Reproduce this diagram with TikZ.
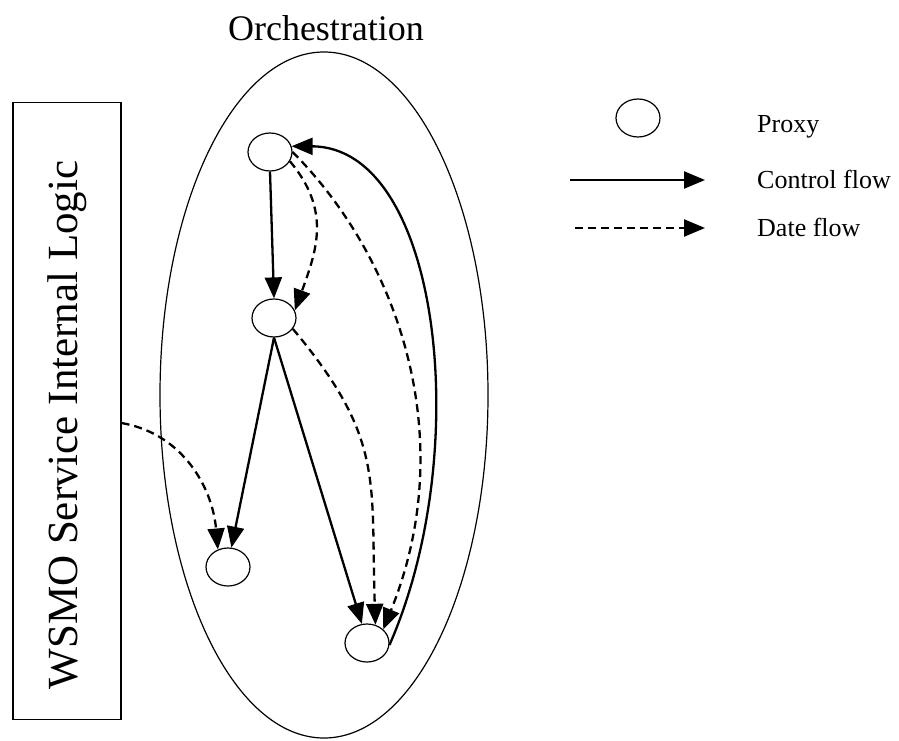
\documentclass[tikz,border=0pt]{standalone}
\usepackage{fontspec}
\setmainfont{Liberation Serif}
\usetikzlibrary{arrows.meta,shapes.geometric}
\begin{document}
\begin{tikzpicture}[x=1pt,y=1pt,
  proxy/.style={ellipse,draw,line width=1.2pt,minimum width=44pt,minimum height=38pt,inner sep=0pt},
  ctrl/.style={line width=2.3pt,-{Triangle[length=21pt,width=17pt]}},
  dataf/.style={ctrl,dash pattern=on 8pt off 5pt},
  bigtext/.style={font=\fontsize{36}{36}\selectfont},
  sidetext/.style={font=\fontsize{43}{43}\selectfont},
  legtext/.style={font=\fontsize{26}{26}\selectfont,anchor=base west,inner sep=0pt}
]
\useasboundingbox (0,0) rectangle (899,-741);
% orchestration ellipse
\node[ellipse,draw,line width=1.2pt,minimum width=328pt,minimum height=686pt,inner sep=0pt] (orch) at (324,-395) {};
\node[bigtext] (title) at (326,-28) {Orchestration};
% WSMO box
\node[draw,line width=1.2pt,minimum width=108pt,minimum height=617pt,inner sep=0pt] (wsmo) at (67,-411) {};
\node[sidetext,rotate=90] (wsmotext) at (67,-425) {WSMO Service Internal Logic};
% proxies
\node[proxy] (n1) at (270,-152) {};
\node[proxy] (n2) at (274,-318) {};
\node[proxy] (n3) at (228,-567) {};
\node[proxy] (n4) at (367,-643) {};
% control flow
\draw[ctrl] (n1.south) -- (n2.north);
\draw[ctrl] (n2.south) -- (n3.80);
\draw[ctrl] (n2.south) -- (n4.105);
\draw[ctrl] (n4.-5) .. controls (475,-450) and (440,-147) .. (n1.15);
% data flow
\draw[dataf] ([yshift=-12pt]wsmo.east) to[out=-10,in=95] (n3.120);
\draw[dataf] (n1.-25) to[out=-50,in=70,looseness=1.1] (n2.20);
\draw[dataf] (n2.-30) to[out=-50,in=92,looseness=1.2] (n4.65);
\draw[dataf] (n1.0) .. controls (400,-260) and (460,-440) .. (n4.40);
% legend
\node[proxy] (lp) at (638,-118) {};
\node[legtext] (lpt) at (757,-132) {Proxy};
\coordinate (lc1) at (570,-180);
\coordinate (lc2) at (705,-180);
\draw[ctrl] (lc1) -- (lc2);
\node[legtext] (lct) at (757,-188) {Control flow};
\coordinate (ld1) at (575,-228);
\coordinate (ld2) at (705,-228);
\draw[dataf] (ld1) -- (ld2);
\node[legtext] (ldt) at (757,-236) {Date flow};
\end{tikzpicture}
\end{document}
